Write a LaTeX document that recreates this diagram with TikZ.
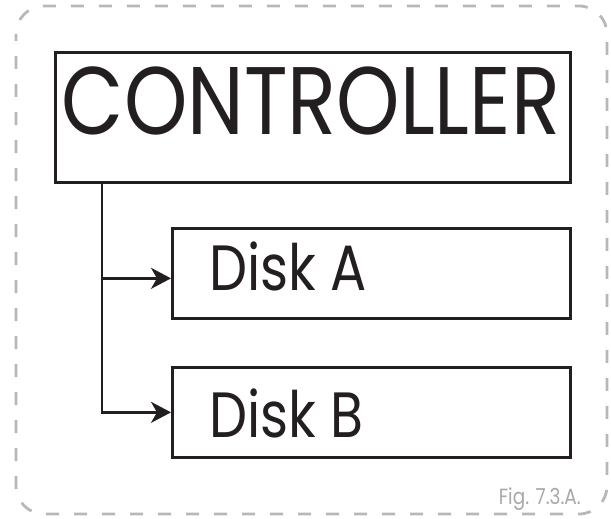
\documentclass[tikz,border=0pt]{standalone}
\usepackage{fontspec}
\setmainfont[FakeStretch=0.84]{Poppins}
\usetikzlibrary{arrows.meta,calc}
\definecolor{frame}{HTML}{B8B8B8}
\definecolor{ink}{HTML}{231F20}
\definecolor{caption}{HTML}{A8A8A8}
\tikzset{
  box/.style={draw=ink, line width=2.7pt, anchor=north west, inner sep=0pt},
  link/.style={draw=ink, line width=2.7pt, -{Stealth[length=20pt,width=21pt,inset=6pt]}},
  label/.style={inner sep=0pt, text=ink},
}
\begin{document}
\begin{tikzpicture}[x=1pt,y=-1pt]
  \useasboundingbox (0,0) rectangle (611,519);
  % dashed outer frame
  \draw[frame, line width=2.8pt, dash pattern=on 13pt off 15pt, dash phase=6pt, rounded corners=28pt]
    (16,6) rectangle (607,514);
  % boxes
  \node[box, minimum width=515pt, minimum height=130pt] (ctrl) at (54,51) {};
  \node[box, minimum width=398pt, minimum height=90pt] (diska) at (171,227) {};
  \node[box, minimum width=398pt, minimum height=90pt] (diskb) at (171,366) {};
  % texts
  \node[label, anchor=base, font=\fontsize{96}{96}\selectfont] (ctrltext) at (311,135) {CONTROLLER};
  \node[label, anchor=base west, font=\fontsize{64}{64}\selectfont] (diskatext) at (209,290) {Disk A};
  \node[label, anchor=base west, font=\fontsize{64}{64}\selectfont] (diskbtext) at (209,437) {Disk B};
  \node[inner sep=0pt, text=caption, anchor=base east, font=\fontsize{22}{22}\selectfont] (fig) at (581,504) {Fig. 7.3.A.};
  % connectors
  \coordinate (trunk) at ($(ctrl.south west)+(48,0)$);
  \draw[link] (trunk) |- ([yshift=-5pt]diska.west);
  \draw[link] (trunk) |- (diskb.west);
\end{tikzpicture}
\end{document}
